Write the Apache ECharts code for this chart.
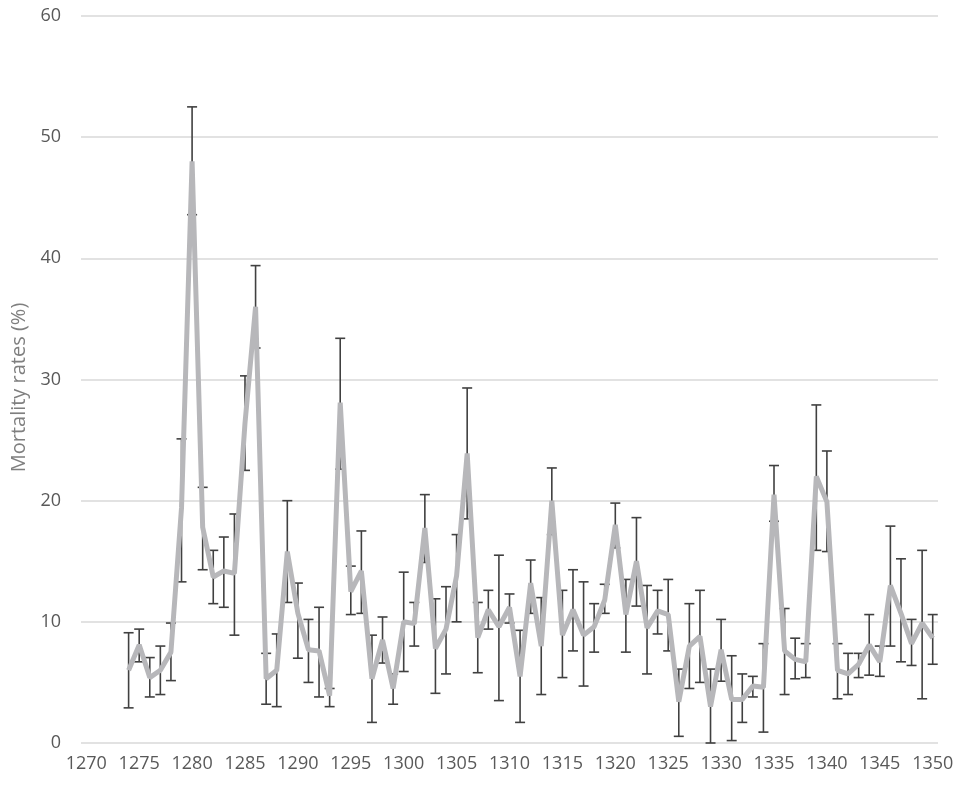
<!DOCTYPE html>
<html>
<head>
<meta charset="utf-8">
<script src="https://cdn.jsdelivr.net/npm/echarts@6/dist/echarts.min.js"></script>
<style>html,body{margin:0;padding:0;background:#fff;}#chart{width:960px;height:786px;}</style>
</head>
<body>
<div id="chart"></div>
<script>
// Category axis years 1270..1350
const categories = [];
for (let y = 1270; y <= 1350; y++) categories.push(String(y));

const years = [1274,1275,1276,1277,1278,1279,1280,1281,1282,1283,1284,1285,1286,1287,1288,1289,
  1290,1291,1292,1293,1294,1295,1296,1297,1298,1299,1300,1301,1302,1303,1304,1305,1306,1307,1308,1309,
  1310,1311,1312,1313,1314,1315,1316,1317,1318,1319,1320,1321,1322,1323,1324,1325,1326,1327,1328,1329,
  1330,1331,1332,1333,1334,1335,1336,1337,1338,1339,1340,1341,1342,1343,1344,1345,1346,1347,1348,1349,1350];

const mortality = [6.0,8.1,5.4,6.0,7.5,19.4,48.0,17.8,13.7,14.2,14.0,26.4,36.0,5.3,6.0,15.8,
  10.7,7.7,7.6,3.9,28.1,12.5,14.2,5.3,8.5,4.5,10.0,9.85,17.75,7.8,9.4,13.8,23.9,8.7,11.0,9.6,
  11.2,5.5,13.2,8.0,20.0,8.9,11.0,8.9,9.6,11.8,18.0,10.6,15.0,9.5,10.9,10.6,3.4,8.0,8.8,3.0,
  7.7,3.6,3.6,4.7,4.6,20.5,7.6,6.9,6.7,22.0,19.9,6.0,5.7,6.5,8.1,6.7,13.0,10.7,8.2,9.9,8.65];

const upper = [9.1,9.4,7.05,8.0,9.9,25.1,52.5,21.1,15.9,17.0,18.9,30.3,39.4,7.4,9.0,20.0,
  13.2,10.2,11.2,4.5,33.4,14.6,17.5,8.9,10.4,5.7,14.1,11.6,20.5,11.9,12.9,17.2,29.3,11.6,12.6,15.5,
  12.3,9.3,15.1,12.0,22.7,12.6,14.3,13.3,11.5,13.1,19.8,13.5,18.6,13.0,12.6,13.5,6.1,11.5,12.6,6.1,
  10.2,7.2,5.7,5.5,8.2,22.9,11.1,8.65,8.2,27.9,24.1,8.2,7.4,7.4,10.6,8.0,17.9,15.2,10.2,15.9,10.6];

const lower = [2.9,6.7,3.8,4.0,5.15,13.3,43.6,14.3,11.5,11.2,8.9,22.5,32.6,3.2,3.0,11.6,
  7.0,5.0,3.8,3.0,22.6,10.6,10.7,1.7,6.6,3.2,5.9,8.0,14.9,4.1,5.7,10.0,18.5,5.8,9.4,3.5,
  9.9,1.7,10.7,4.0,17.2,5.4,7.6,4.7,7.5,10.7,16.1,7.5,11.3,5.7,9.0,7.6,0.55,4.5,5.0,0.0,
  5.1,0.2,1.7,3.8,0.9,18.3,4.0,5.3,5.4,15.9,15.8,3.65,4.0,5.4,5.6,5.5,8.0,6.7,6.4,3.65,6.5];

const yTicks = [0,10,20,30,40,50,60];

const lineData = categories.map(c => {
  const i = years.indexOf(Number(c));
  return i >= 0 ? mortality[i] : null;
});
const errData = years.map((y, i) => [String(y), lower[i], upper[i]]);

const chart = echarts.init(document.getElementById('chart'), null, {renderer: 'canvas'});
const FONT = '"Open Sans", sans-serif';
chart.setOption({
  animation: false,
  backgroundColor: '#ffffff',
  grid: {left: 81, right: 22, top: 16, bottom: 43, containLabel: false},
  xAxis: {
    type: 'category',
    data: categories,
    boundaryGap: true,
    axisLine: {show: false},
    axisTick: {show: false},
    axisLabel: {interval: 4, color: '#595959', fontSize: 18, fontFamily: FONT, margin: 12},
    splitLine: {show: false}
  },
  yAxis: {
    type: 'value',
    min: yTicks[0],
    max: yTicks[yTicks.length - 1],
    interval: 10,
    name: 'Mortality rates (%)',
    nameLocation: 'middle',
    nameGap: 48,
    nameTextStyle: {color: '#7f7f7f', fontSize: 20, fontFamily: FONT, padding: [0, 16, 0, 0]},
    axisLine: {show: false},
    axisTick: {show: false},
    axisLabel: {color: '#595959', fontSize: 18, fontFamily: FONT, margin: 20},
    splitLine: {lineStyle: {color: '#d9d9d9', width: 1.5}}
  },
  series: [
    {
      type: 'custom',
      z: 2,
      data: errData,
      encode: {x: 0, y: [1, 2]},
      renderItem: function (params, api) {
        const x = api.value(0);
        const lo = api.coord([x, api.value(1)]);
        const hi = api.coord([x, api.value(2)]);
        const hw = 5;
        const style = {stroke: '#404040', lineWidth: 1.6, fill: null};
        return {
          type: 'group',
          children: [
            {type: 'line', shape: {x1: lo[0], y1: lo[1], x2: hi[0], y2: hi[1]}, style: style},
            {type: 'line', shape: {x1: hi[0] - hw, y1: hi[1], x2: hi[0] + hw, y2: hi[1]}, style: style},
            {type: 'line', shape: {x1: lo[0] - hw, y1: lo[1], x2: lo[0] + hw, y2: lo[1]}, style: style}
          ]
        };
      }
    },
    {
      type: 'line',
      z: 3,
      data: lineData,
      showSymbol: false,
      symbol: 'none',
      connectNulls: false,
      lineStyle: {color: '#b7b7ba', width: 5}
    }
  ]
});
</script>
</body>
</html>
